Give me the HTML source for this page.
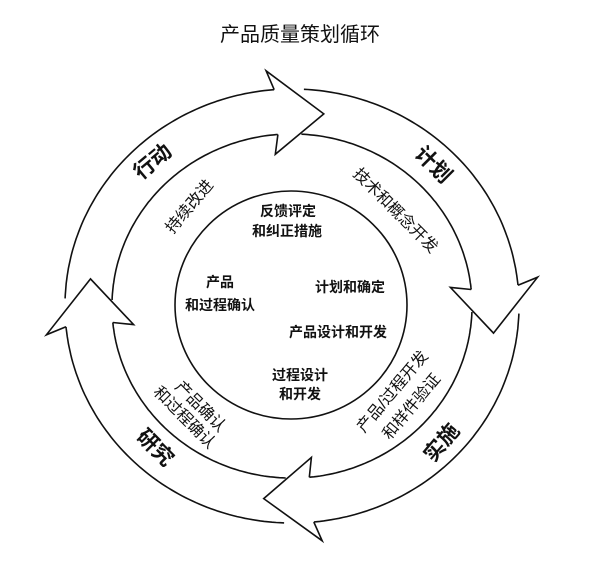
<!DOCTYPE html>
<html><head><meta charset="utf-8"><style>
html,body{margin:0;padding:0;background:#fff;}
body{width:600px;height:565px;overflow:hidden;position:relative;}
svg{position:absolute;left:0;top:0;}
text{font-family:"Liberation Sans","Noto Sans CJK SC",sans-serif;fill:#111;dominant-baseline:central;}
</style></head><body>
<svg id="s" width="600" height="565" viewBox="0 0 600 565">
<g id="g" fill="#fff" stroke="#111" stroke-width="1.6" stroke-linejoin="miter"></g>
<ellipse cx="291" cy="305" rx="116" ry="114" fill="none" stroke="#111" stroke-width="1.6"/>
<text x="300" y="35" font-size="20" text-anchor="middle">产品质量策划循环</text>
<g font-size="21" font-weight="bold" text-anchor="middle">
<text transform="translate(153,162) rotate(-40)">行动</text>
<text transform="translate(433,165) rotate(45)">计划</text>
<text transform="translate(442,443) rotate(-50)">实施</text>
<text transform="translate(155,448) rotate(45)">研究</text>
</g>
<g font-size="16" text-anchor="middle">
<text transform="translate(190,207) rotate(-50)">持续改进</text>
<text transform="translate(395,211) rotate(45)">技术和概念开发</text>
<text transform="translate(393,392) rotate(-50)">产品/过程开发</text>
<text transform="translate(412,407) rotate(-50)">和样件验证</text>
<text transform="translate(200,407) rotate(45)">产品确认</text>
<text transform="translate(184,418) rotate(45)">和过程确认</text>
</g>
<g font-size="14" font-weight="bold" text-anchor="middle">
<text x="288" y="211">反馈评定</text>
<text x="287" y="231">和纠正措施</text>
<text x="220" y="282">产品</text>
<text x="220" y="305">和过程确认</text>
<text x="350" y="287">计划和确定</text>
<text x="338" y="332">产品设计和开发</text>
<text x="300" y="375">过程设计</text>
<text x="300" y="394">和开发</text>
</g>
</svg>
<script>
(function(){
var cx=292,cy=306,RX=227,RY=217,rx=180,ry=175;
function P(a,s){var t=a*Math.PI/180;return [(cx+RX*s*Math.cos(t)).toFixed(1),(cy+RY*s*Math.sin(t)).toFixed(1)];}
var ro=1, ri=rx/RX, mid=(ro+ri)/2, bo=1.09, bi=ri-0.09;
var tips=[-81,8,98,188];
var g=document.getElementById('g');var ns='http://www.w3.org/2000/svg';
function mk(tag,attrs){var e=document.createElementNS(ns,tag);for(var k in attrs)e.setAttribute(k,attrs[k]);g.appendChild(e);return e;}
var heads=[];
for(var i=0;i<4;i++){
 var tip=tips[i], barb=tip-15, notch=barb+1.5;
 var prevTip=tips[(i+3)%4]; if(prevTip>tip) prevTip-=360;
 var tail=prevTip-6;
 var d='M'+P(tail,ro).join(',');
 for(var a=tail;a<=notch;a+=1)d+=' L'+P(a,ro).join(',');
 d+=' L'+P(notch,ro).join(',');
 d+=' M'+P(tail,ri).join(',');
 for(var a=tail;a<=notch;a+=1)d+=' L'+P(a,ri).join(',');
 d+=' L'+P(notch,ri).join(',');
 var f='M'+P(tail,ro).join(',');
 for(var a=tail;a<=notch;a+=1)f+=' L'+P(a,ro).join(',');
 f+=' L'+P(notch,ro).join(',')+' L'+P(notch,ri).join(',');
 for(var a=notch;a>=tail;a-=1)f+=' L'+P(a,ri).join(',');
 f+=' Z';
 mk('path',{d:f,stroke:'none'});
 mk('path',{d:d,fill:'none'});
 heads.push([P(notch,ro),P(barb,bo),P(tip,mid),P(barb,bi),P(notch,ri)]);
}
heads.forEach(function(h){
 var pts=h.map(function(p){return p.join(',');}).join(' ');
 mk('polygon',{points:pts,stroke:'none'});
 mk('polyline',{points:pts,fill:'none'});
});
})();
</script>
</body></html>
